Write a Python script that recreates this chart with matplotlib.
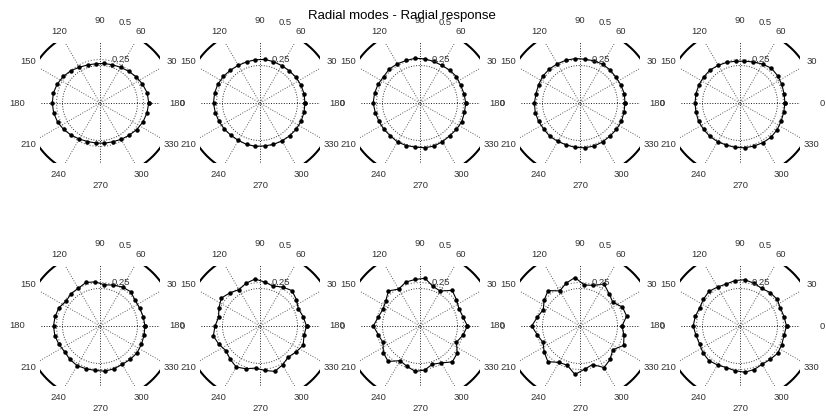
import numpy as np
import matplotlib.pyplot as plt

# measuring points every 12 degrees (30 points round the ring)
theta_deg = np.arange(0, 360, 12)

# radial response per mode
r1 = [0.325, 0.322, 0.310, 0.298, 0.285, 0.275, 0.268, 0.265, 0.263, 0.267,
      0.275, 0.290, 0.302, 0.312, 0.318, 0.318, 0.316, 0.310, 0.300, 0.288,
      0.277, 0.270, 0.268, 0.270, 0.272, 0.280, 0.290, 0.302, 0.313, 0.320]
r2 = [0.300, 0.300, 0.298, 0.295, 0.290, 0.288, 0.290, 0.292, 0.290, 0.288,
      0.290, 0.295, 0.302, 0.308, 0.310, 0.310, 0.305, 0.300, 0.295, 0.290,
      0.288, 0.290, 0.290, 0.288, 0.290, 0.292, 0.295, 0.298, 0.300, 0.300]
r3 = [0.305, 0.300, 0.296, 0.300, 0.295, 0.290, 0.292, 0.296, 0.300, 0.298,
      0.302, 0.305, 0.300, 0.306, 0.310, 0.312, 0.305, 0.300, 0.298, 0.295,
      0.300, 0.298, 0.296, 0.300, 0.302, 0.298, 0.295, 0.300, 0.305, 0.303]
r4 = [0.300, 0.302, 0.298, 0.295, 0.298, 0.300, 0.296, 0.294, 0.298, 0.300,
      0.302, 0.305, 0.306, 0.302, 0.300, 0.304, 0.305, 0.302, 0.298, 0.300,
      0.296, 0.294, 0.298, 0.300, 0.302, 0.300, 0.298, 0.300, 0.302, 0.300]
r5 = [0.300, 0.300, 0.305, 0.310, 0.312, 0.300, 0.288, 0.280, 0.280, 0.285,
      0.290, 0.297, 0.298, 0.300, 0.300, 0.300, 0.300, 0.302, 0.300, 0.300,
      0.298, 0.295, 0.298, 0.300, 0.302, 0.305, 0.308, 0.305, 0.300, 0.298]
r6 = [0.300, 0.295, 0.290, 0.290, 0.307, 0.300, 0.287, 0.276, 0.296, 0.305,
      0.290, 0.289, 0.280, 0.300, 0.306, 0.310, 0.308, 0.300, 0.292, 0.300,
      0.305, 0.300, 0.298, 0.303, 0.300, 0.296, 0.300, 0.305, 0.302, 0.300]
r7 = [0.310, 0.295, 0.280, 0.300, 0.318, 0.300, 0.280, 0.295, 0.315, 0.300,
      0.280, 0.298, 0.318, 0.300, 0.282, 0.300, 0.318, 0.300, 0.280, 0.298,
      0.316, 0.300, 0.282, 0.298, 0.318, 0.300, 0.280, 0.296, 0.315, 0.300]
r8 = [0.316, 0.293, 0.284, 0.300, 0.320, 0.269, 0.278, 0.320, 0.312, 0.308,
      0.284, 0.315, 0.282, 0.271, 0.285, 0.311, 0.284, 0.270, 0.302, 0.318,
      0.267, 0.282, 0.305, 0.295, 0.268, 0.284, 0.322, 0.307, 0.266, 0.293]
r9 = [0.280, 0.318, 0.310, 0.270, 0.290, 0.322, 0.285, 0.275, 0.325, 0.300,
      0.270, 0.318, 0.295, 0.268, 0.290, 0.322, 0.290, 0.270, 0.295, 0.320,
      0.280, 0.275, 0.325, 0.290, 0.270, 0.320, 0.300, 0.270, 0.318, 0.300]
r10 = [0.310, 0.300, 0.295, 0.305, 0.300, 0.290, 0.300, 0.310, 0.305, 0.295,
       0.300, 0.310, 0.302, 0.295, 0.305, 0.312, 0.300, 0.295, 0.305, 0.310,
       0.300, 0.292, 0.300, 0.310, 0.305, 0.295, 0.300, 0.310, 0.305, 0.300]
responses = [r1, r2, r3, r4, r5, r6, r7, r8, r9, r10]

ref_r = 0.29      # undeformed ring
rticks = [0.25, 0.5]
angle_ticks = np.arange(0, 360, 30)

W, H = 826.0, 419.0
fig = plt.figure(figsize=(W / 100, H / 100), dpi=100)
plt.rcParams['font.family'] = ['Liberation Sans', 'DejaVu Sans']

cxs = [100, 260, 420, 580, 740]
cys = [103, 326]
half = 60.0      # half box size in px
lim = 0.4        # data units of half box
th = np.radians(theta_deg)
t = np.linspace(0, 2 * np.pi, 361)

for k, r in enumerate(responses):
    cx = cxs[k % 5]
    cy = cys[k // 5]
    ax = fig.add_axes([(cx - half) / W, (H - cy - half) / H, 2 * half / W, 2 * half / H])
    ax.set_xlim(-lim, lim)
    ax.set_ylim(-lim, lim)
    ax.axis('off')

    # spokes
    for a in angle_ticks[:6]:
        ar = np.radians(a)
        col = '0.1' if a % 90 == 0 else '0.35'
        ax.plot([-0.6 * np.cos(ar), 0.6 * np.cos(ar)], [-0.6 * np.sin(ar), 0.6 * np.sin(ar)],
                ':', color=col, lw=0.7)
    # circles
    ax.plot(0.25 * np.cos(t), 0.25 * np.sin(t), ':', color='0.2', lw=0.7)
    ax.plot(0.5 * np.cos(t), 0.5 * np.sin(t), '-', color='k', lw=1.5)
    ax.plot(ref_r * np.cos(t), ref_r * np.sin(t), ':', color='0.45', lw=0.8)

    # response
    rr = np.append(r, r[0])
    tt = np.append(th, th[0])
    ax.plot(rr * np.cos(tt), rr * np.sin(tt), '-', color='k', lw=0.8,
            marker='o', markersize=2.2)

    # labels
    for a in angle_ticks:
        ar = np.radians(a)
        ax.text(0.55 * np.cos(ar), 0.55 * np.sin(ar), str(a), ha='center', va='center',
                fontsize=6.8, color='#333333', clip_on=False)
    for rt in rticks:
        ax.text(rt * np.cos(np.radians(80)) + 0.035, rt * np.sin(np.radians(80)) + 0.045,
                '%g' % rt, ha='left', va='center', fontsize=6.8, color='#333333', clip_on=False)

fig.text(402 / W, 1 - 18.5 / H, 'Radial modes - Radial response', ha='center', va='baseline',
         fontsize=9.5, color='k')

plt.savefig('out.png', dpi=100)
